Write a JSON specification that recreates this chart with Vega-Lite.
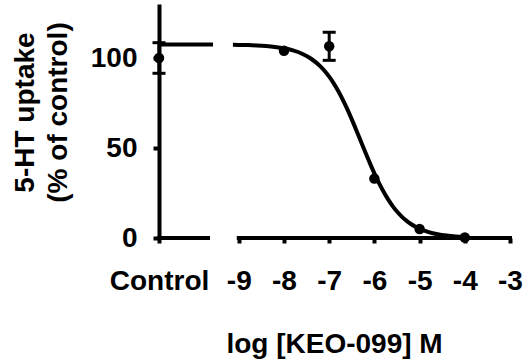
{
  "$schema": "https://vega.github.io/schema/vega-lite/v6.json",
  "autosize": {"type": "none"},
  "padding": {"left": 159, "top": 4, "right": 14, "bottom": 122},
  "width": 351,
  "height": 234,
  "background": "white",
  "config": {
    "view": {"stroke": null},
    "font": "Liberation Sans",
    "axis": {
      "grid": false,
      "labelFont": "Liberation Sans",
      "labelFontWeight": "bold",
      "labelFontSize": 28,
      "labelColor": "black",
      "titleFont": "Liberation Sans",
      "titleFontWeight": "bold",
      "titleFontSize": 28,
      "titleColor": "black",
      "tickColor": "black",
      "domainColor": "black"
    }
  },
  "datasets": {
    "curve": [
      {"seg": "control", "logc": -10.765, "pct": 107.5},
      {"seg": "control", "logc": -9.57, "pct": 107.5},
      {"seg": "main", "logc": -9.13, "pct": 107.34},
      {"seg": "main", "logc": -9.0, "pct": 107.29},
      {"seg": "main", "logc": -8.8, "pct": 107.16},
      {"seg": "main", "logc": -8.6, "pct": 106.96},
      {"seg": "main", "logc": -8.4, "pct": 106.65},
      {"seg": "main", "logc": -8.2, "pct": 106.16},
      {"seg": "main", "logc": -8.0, "pct": 105.4},
      {"seg": "main", "logc": -7.8, "pct": 104.2},
      {"seg": "main", "logc": -7.6, "pct": 102.37},
      {"seg": "main", "logc": -7.4, "pct": 99.59},
      {"seg": "main", "logc": -7.2, "pct": 95.48},
      {"seg": "main", "logc": -7.1, "pct": 92.79},
      {"seg": "main", "logc": -7.0, "pct": 89.62},
      {"seg": "main", "logc": -6.9, "pct": 85.92},
      {"seg": "main", "logc": -6.8, "pct": 81.67},
      {"seg": "main", "logc": -6.7, "pct": 76.89},
      {"seg": "main", "logc": -6.6, "pct": 71.61},
      {"seg": "main", "logc": -6.5, "pct": 65.91},
      {"seg": "main", "logc": -6.4, "pct": 59.91},
      {"seg": "main", "logc": -6.3, "pct": 53.75},
      {"seg": "main", "logc": -6.2, "pct": 47.59},
      {"seg": "main", "logc": -6.1, "pct": 41.59},
      {"seg": "main", "logc": -6.0, "pct": 35.89},
      {"seg": "main", "logc": -5.9, "pct": 30.61},
      {"seg": "main", "logc": -5.8, "pct": 25.83},
      {"seg": "main", "logc": -5.7, "pct": 21.58},
      {"seg": "main", "logc": -5.6, "pct": 17.88},
      {"seg": "main", "logc": -5.5, "pct": 14.71},
      {"seg": "main", "logc": -5.4, "pct": 12.02},
      {"seg": "main", "logc": -5.3, "pct": 9.77},
      {"seg": "main", "logc": -5.2, "pct": 7.91},
      {"seg": "main", "logc": -5.1, "pct": 6.38},
      {"seg": "main", "logc": -5.0, "pct": 5.13},
      {"seg": "main", "logc": -4.8, "pct": 3.3},
      {"seg": "main", "logc": -4.6, "pct": 2.1},
      {"seg": "main", "logc": -4.4, "pct": 1.34},
      {"seg": "main", "logc": -4.2, "pct": 0.85},
      {"seg": "main", "logc": -4.0, "pct": 0.54}
    ],
    "means": [
      {"group": "Control", "logc": -10.765, "pct": 100, "lo": 91.5, "hi": 108.5},
      {"group": "-8", "logc": -8, "pct": 104, "lo": 104, "hi": 104},
      {"group": "-7", "logc": -7, "pct": 106.5, "lo": 98.7, "hi": 114.3},
      {"group": "-6", "logc": -6, "pct": 33, "lo": 33, "hi": 33},
      {"group": "-5", "logc": -5, "pct": 5, "lo": 5, "hi": 5},
      {"group": "-4", "logc": -4, "pct": 0.3, "lo": 0.3, "hi": 0.3}
    ],
    "xaxis": [
      {"part": "control", "start": -10.765, "end": -9.68},
      {"part": "dose", "start": -9, "end": -3}
    ]
  },
  "encoding": {
    "x": {
      "type": "quantitative",
      "scale": {"domain": [-10.765, -3], "nice": false, "zero": false},
      "axis": {
        "values": [-10.765, -9, -8, -7, -6, -5, -4, -3],
        "labelExpr": "datum.value < -10 ? 'Control' : '' + datum.value",
        "domain": false,
        "tickSize": 5,
        "tickWidth": 4,
        "labelBaseline": "alphabetic",
        "labelPadding": 46,
        "labelFlush": false,
        "labelOverlap": false,
        "title": "log [KEO-099] M",
        "titleBaseline": "alphabetic",
        "titleAlign": "center",
        "titleAnchor": "start",
        "titleX": 175,
        "titleY": 114
      }
    },
    "y": {
      "type": "quantitative",
      "scale": {"domain": [0, 130], "nice": false},
      "axis": {
        "values": [0, 50, 100],
        "domainWidth": 4,
        "tickSize": 6,
        "tickWidth": 4,
        "labelPadding": 16,
        "title": ["5-HT uptake", "(% of control)"],
        "titleAngle": -90,
        "titleBaseline": "alphabetic",
        "titleAlign": "center",
        "titleAnchor": "start",
        "titleLineHeight": 33,
        "titleX": -126,
        "titleY": 108
      }
    }
  },
  "layer": [
    {
      "data": {"name": "xaxis"},
      "mark": {"type": "rule", "color": "black", "strokeWidth": 4, "strokeCap": "square"},
      "encoding": {
        "x": {"field": "start", "type": "quantitative"},
        "x2": {"field": "end"},
        "y": {"datum": 0, "type": "quantitative"}
      }
    },
    {
      "data": {"name": "curve"},
      "mark": {"type": "line", "color": "black", "strokeWidth": 4, "interpolate": "monotone"},
      "encoding": {
        "x": {"field": "logc", "type": "quantitative"},
        "y": {"field": "pct", "type": "quantitative"},
        "detail": {"field": "seg"}
      }
    },
    {
      "data": {"name": "means"},
      "transform": [{"filter": "datum.hi > datum.lo"}],
      "mark": {"type": "rule", "color": "black", "strokeWidth": 3},
      "encoding": {
        "x": {"field": "logc", "type": "quantitative"},
        "y": {"field": "lo", "type": "quantitative"},
        "y2": {"field": "hi"}
      }
    },
    {
      "data": {"name": "means"},
      "transform": [{"filter": "datum.hi > datum.lo"}],
      "mark": {"type": "tick", "orient": "horizontal", "color": "black", "opacity": 1, "size": 13, "thickness": 3},
      "encoding": {
        "x": {"field": "logc", "type": "quantitative"},
        "y": {"field": "lo", "type": "quantitative"}
      }
    },
    {
      "data": {"name": "means"},
      "transform": [{"filter": "datum.hi > datum.lo"}],
      "mark": {"type": "tick", "orient": "horizontal", "color": "black", "opacity": 1, "size": 13, "thickness": 3},
      "encoding": {
        "x": {"field": "logc", "type": "quantitative"},
        "y": {"field": "hi", "type": "quantitative"}
      }
    },
    {
      "data": {"name": "means"},
      "mark": {"type": "circle", "color": "black", "opacity": 1, "size": 110},
      "encoding": {
        "x": {"field": "logc", "type": "quantitative"},
        "y": {"field": "pct", "type": "quantitative"}
      }
    }
  ]
}
